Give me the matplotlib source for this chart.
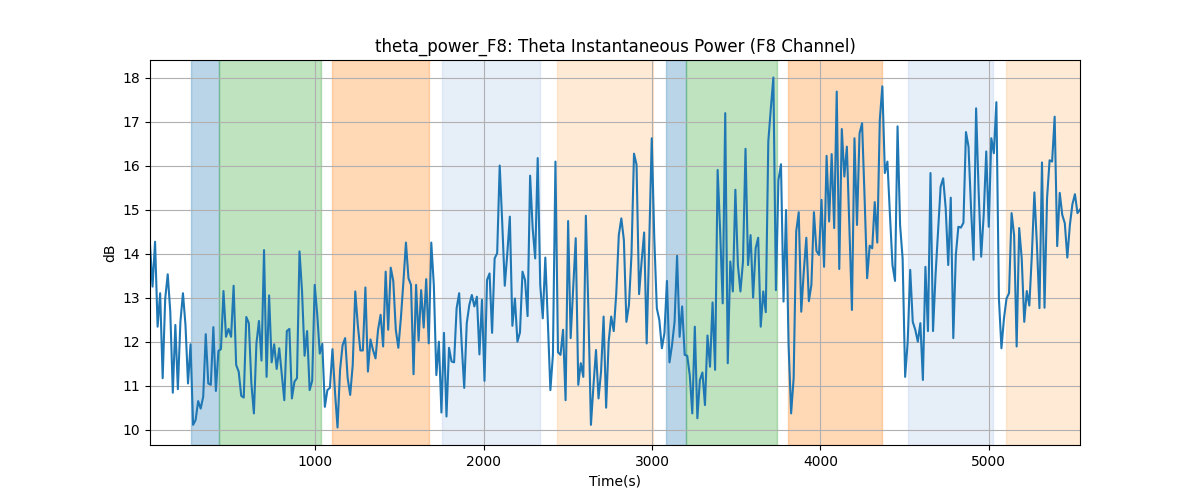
import numpy as np
import matplotlib
matplotlib.use("Agg")
import matplotlib.pyplot as plt

# theta power readings (dB), one sample every ~15 s
power_db = [
    14.20, 13.25, 14.27, 12.34, 13.10, 11.17, 12.98, 13.53, 12.68, 10.84,
    12.38, 10.92, 12.45, 13.10, 12.38, 11.05, 11.94, 10.11, 10.22, 10.65,
    10.48, 10.75, 12.17, 11.05, 11.02, 12.33, 10.88, 11.79, 11.83, 13.15,
    12.11, 12.29, 12.11, 13.27, 11.47, 11.32, 10.77, 10.73, 12.56, 12.42,
    11.05, 10.37, 11.96, 12.47, 11.57, 14.08,
    11.20, 13.05, 11.53, 11.94, 11.38, 11.85, 11.25, 10.67, 12.24, 12.29,
    10.71, 11.09, 11.17, 14.05, 13.14, 11.68, 12.24, 10.90, 11.11, 13.29,
    12.61, 11.73, 11.95, 10.52, 10.90, 10.95, 11.83, 10.86, 10.05, 11.36,
    11.92, 12.08, 11.17, 10.79, 11.47, 13.14, 12.38, 11.80, 11.80, 13.23,
    11.32, 12.05, 11.81, 11.62, 12.27,
    12.61, 11.89, 13.59, 12.27, 13.68, 13.38, 12.27, 11.86, 12.53, 13.36,
    14.25, 13.44, 13.29, 11.26, 13.29, 12.02, 13.17, 12.32, 13.42, 11.96,
    14.25, 13.29, 11.24, 12.00, 10.39, 12.20, 10.30, 11.86, 11.55, 11.53,
    12.76, 13.10, 11.94, 10.95, 12.42, 12.83, 13.06, 12.80, 13.02, 11.71,
    12.95, 11.11, 13.40, 13.55, 12.20, 13.89,
    14.01, 16.00, 14.70, 13.27, 14.00, 14.84, 12.36, 12.98, 12.00, 12.21,
    13.59, 13.40, 12.58, 15.77, 14.58, 13.89, 16.17, 13.29, 12.53, 13.91,
    12.45, 10.90, 11.70, 16.09, 11.76, 11.70, 12.27, 10.67, 14.74, 12.08,
    13.20, 14.35, 11.02, 11.51, 11.20, 14.86, 12.70, 10.11, 11.00, 11.81,
    10.71, 11.32, 12.57, 10.50, 12.00, 12.57,
    12.24, 13.10, 14.42, 14.80, 14.31, 12.45, 12.83, 13.97, 16.27, 16.02,
    13.08, 13.82, 14.48, 11.96, 14.23, 16.62, 14.35, 12.76, 12.49, 11.85,
    12.19, 13.38, 11.53, 11.92, 12.45, 13.95, 12.11, 12.80, 11.70, 11.68,
    11.24, 10.37, 12.34, 10.26, 11.13, 11.30, 10.56, 12.14, 11.43, 12.89,
    11.36, 15.90, 14.50, 12.87, 17.19, 11.51,
    13.82, 13.14, 15.45, 13.74, 13.14, 13.82, 16.38, 13.74, 14.42, 13.00,
    14.12, 14.36, 12.34, 13.14, 12.67, 16.55, 17.30, 18.00, 13.17, 15.67,
    16.03, 12.91, 14.99, 11.92, 10.37, 11.17, 14.50, 14.94, 12.68, 13.59,
    14.36, 12.92, 13.29, 14.94, 14.06, 13.97, 15.22, 13.70, 16.22, 14.73,
    16.26, 14.58, 17.68, 13.65, 16.83, 15.75,
    16.43, 14.60, 12.72, 16.62, 14.65, 16.73, 16.96, 15.26, 13.44, 14.18,
    14.12, 15.17, 14.25, 17.04, 17.80, 15.83, 16.09, 14.88, 13.74, 13.38,
    16.89, 14.65, 13.89, 11.20, 12.00, 13.63, 12.45, 12.27, 12.00, 12.42,
    11.13, 13.70, 12.24, 15.83, 12.24, 13.52, 14.50, 15.52, 15.71, 15.03,
    13.74, 15.27, 12.08, 13.97, 14.61, 14.59,
    14.70, 16.76, 16.43, 15.03, 13.86, 17.30, 15.41, 13.93, 14.88, 16.32,
    14.61, 16.62, 16.28, 17.44, 12.98, 11.85, 12.53, 12.98, 13.10, 14.92,
    14.42, 11.89, 14.58, 13.89, 12.45, 13.15, 12.82, 13.97, 15.39, 14.20,
    12.76, 16.07, 12.77, 15.26, 16.12, 16.09, 17.11, 14.17, 15.38, 14.88,
    14.69, 13.91, 14.65, 15.12, 15.35, 14.92, 15.00,
]

t_start = 17
t_end = 5542

# shaded segments: (start, end, color)
seg_start = [263, 429, 1101, 1749, 2433, 3081, 3200, 3806, 4520, 5102]
seg_end = [429, 1030, 1672, 2332, 3004, 3200, 3741, 4365, 5025, 5600]
seg_color = ["C0", "C2", "C1", "#aec7e8", "#ffbb78",
             "C0", "C2", "C1", "#aec7e8", "#ffbb78"]

t = np.linspace(t_start, t_end, len(power_db))

fig, ax = plt.subplots(figsize=(12, 5))
for s, e, c in zip(seg_start, seg_end, seg_color):
    ax.axvspan(s, e, color=c, alpha=0.3)
ax.plot(t, power_db, color="C0")
ax.set_xlim(t[0], t[-1])
ax.set_xlabel("Time(s)")
ax.set_ylabel("dB")
ax.set_title("theta_power_F8: Theta Instantaneous Power (F8 Channel)")
ax.grid(True)
plt.savefig("out.png")
